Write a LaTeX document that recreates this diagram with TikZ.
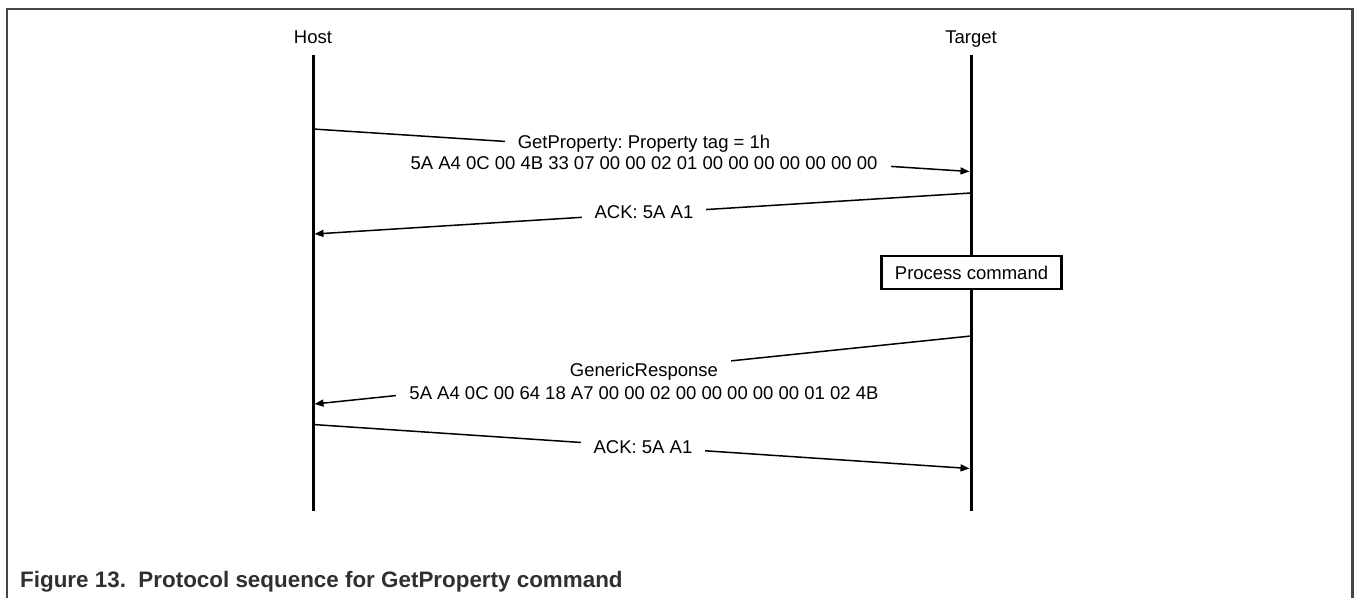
\documentclass[tikz,border=0pt]{standalone}
\usepackage{fontspec}
\setmainfont{Liberation Sans}
\usetikzlibrary{arrows.meta}
\definecolor{framegray}{HTML}{454545}
\definecolor{captiongray}{HTML}{303030}
\frenchspacing
\begin{document}
\begin{tikzpicture}[x=1pt,y=-1pt,
  lifeline/.style={line width=3pt},
  msg/.style={line width=1.5pt,-{Triangle[length=9pt,width=7pt]}},
  txt/.style={font=\fontsize{18.5}{22}\selectfont,inner sep=0pt,anchor=base},
  lbl/.style={txt,fill=white,inner xsep=13pt,inner ysep=0pt,text height=18pt,text depth=6.5pt},
  procbox/.style={draw,fill=white,line width=2.2pt,minimum width=180pt,minimum height=33pt,
    inner sep=0pt,font=\fontsize{18.5}{22}\selectfont},
  caption/.style={font=\fontsize{22.4}{26}\selectfont\bfseries,text=captiongray,inner sep=0pt,anchor=base west}
]
\useasboundingbox (0,0) rectangle (1354,598);

% page frame, open at the bottom
\draw[framegray,line width=2.5pt] (7,598) -- (7,9) -- (1352.7,9) -- (1352.7,598);

% participants
\node[txt] (host) at (313,43.3) {Host};
\node[txt] (target) at (971,43.3) {Target};

\coordinate (hTop) at (313,55);
\coordinate (hBot) at (313,511);
\coordinate (tTop) at (971,55);
\coordinate (tBot) at (971,511);
\draw[lifeline] (hTop) -- (hBot);
\draw[lifeline] (tTop) -- (tBot);

% message end points on the lifelines
\coordinate (m1s) at (313,129);
\coordinate (m1e) at (969.5,171.5);
\coordinate (m2s) at (971,193);
\coordinate (m2e) at (314.5,234);
\coordinate (m3s) at (971,336);
\coordinate (m3e) at (314.5,404);
\coordinate (m4s) at (313,424.5);
\coordinate (m4e) at (969.5,468.5);

\draw[msg] (m1s) -- (m1e);
\draw[msg] (m2s) -- (m2e);
\draw[msg] (m3s) -- (m3e);
\draw[msg] (m4s) -- (m4e);

% message labels (the lower line of a pair is set first so the upper one stays on top)
\node[lbl] (l1b) at (644,169.5) {5A A4 0C 00 4B 33 07 00 00 02 01 00 00 00 00 00 00 00};
\node[lbl] (l1a) at (644,148) {GetProperty: Property tag = 1h};
\node[lbl] (l2)  at (644,218.3) {ACK: 5A A1};
\node[lbl,text height=22pt] (l3b) at (644,399.3) {5A A4 0C 00 64 18 A7 00 00 02 00 00 00 00 00 01 02 4B};
\node[lbl] (l3a) at (644,376.7) {GenericResponse};
\node[lbl] (l4)  at (643,453.3) {ACK: 5A A1};

% target activity
\node[procbox] (proc) at (971.5,272.5) {Process command};

% caption
\node[caption] (cap) at (20,587.4) {Figure 13.~~Protocol sequence for GetProperty command};
\end{tikzpicture}
\end{document}
